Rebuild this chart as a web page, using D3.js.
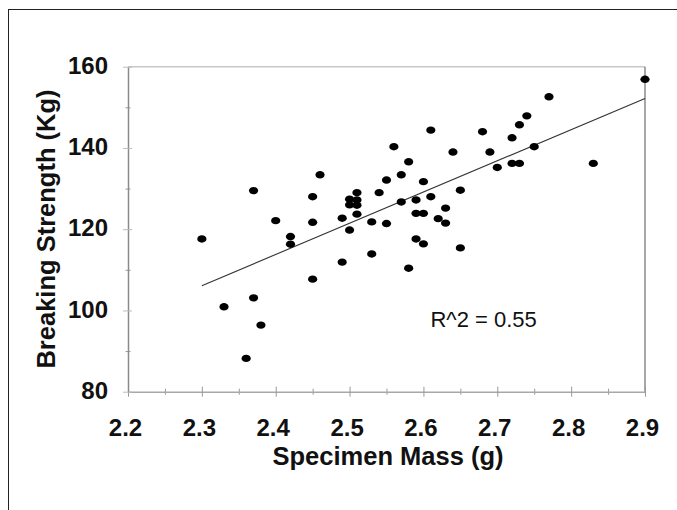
<!DOCTYPE html>
<html>
<head>
<meta charset="utf-8">
<script src="https://cdn.jsdelivr.net/npm/d3@7"></script>
<style>
  html, body { margin: 0; padding: 0; background: #fff; }
  svg { display: block; }
</style>
</head>
<body>
<svg id="chart" width="677" height="510"></svg>
<script>
// ---- Data ----
const massValues = [
  2.90, 2.77, 2.74, 2.73, 2.61, 2.68, 2.72, 2.56, 2.75, 2.64,
  2.69, 2.58, 2.70, 2.72, 2.73, 2.83, 2.57, 2.46, 2.55, 2.60,
  2.37, 2.65, 2.54, 2.45, 2.61, 2.51, 2.50, 2.51, 2.50, 2.51,
  2.57, 2.59, 2.63, 2.40, 2.45, 2.49, 2.51, 2.53, 2.55, 2.59,
  2.60, 2.62, 2.63, 2.50, 2.30, 2.42, 2.42, 2.59, 2.60, 2.65,
  2.53, 2.49, 2.58, 2.45, 2.37, 2.33, 2.38, 2.36
];
const strengthValues = [
  156.9, 152.6, 147.9, 145.7, 144.4, 144.0, 142.5, 140.3, 140.3, 139.0,
  139.0, 136.6, 135.2, 136.2, 136.2, 136.2, 133.4, 133.4, 132.1, 131.7,
  129.5, 129.6, 129.0, 128.0, 128.0, 129.0, 127.4, 127.2, 126.0, 125.9,
  126.7, 127.2, 125.2, 122.1, 121.7, 122.7, 123.7, 121.8, 121.4, 123.9,
  123.9, 122.6, 121.5, 119.8, 117.6, 118.2, 116.3, 117.6, 116.4, 115.4,
  113.9, 111.9, 110.4, 107.7, 103.1, 100.9, 96.4, 88.2
];
const trendX = [2.3, 2.9];
const trendY = [106.1, 152.2];
const xTicks = [2.2, 2.3, 2.4, 2.5, 2.6, 2.7, 2.8, 2.9];
const xMinorTicks = [2.25, 2.35, 2.45, 2.55, 2.65, 2.75, 2.85];
const yTicks = [80, 100, 120, 140, 160];
const yMinorTicks = [90, 110, 130, 150];
const xTitle = "Specimen Mass (g)";
const yTitle = "Breaking Strength (Kg)";
const r2Label = "R^2 = 0.55";

// ---- Layout ----
const svg = d3.select("#chart");
const plot = { left: 128, right: 645, top: 66.7, bottom: 391.7 };
const font = "'Liberation Sans', Arial, Helvetica, sans-serif";

const x = d3.scaleLinear().domain([2.2, 2.9]).range([plot.left, plot.right]);
const y = d3.scaleLinear().domain([80, 160]).range([plot.bottom, plot.top]);

// outer frame
svg.append("rect")
  .attr("x", 8.5).attr("y", 9.5)
  .attr("width", 720).attr("height", 600)
  .attr("fill", "none").attr("stroke", "#222").attr("stroke-width", 1);

// plot border top & right
svg.append("line")
  .attr("x1", plot.left).attr("x2", plot.right)
  .attr("y1", plot.top).attr("y2", plot.top)
  .attr("stroke", "#c8c8c8").attr("stroke-width", 1.5);
svg.append("line")
  .attr("x1", plot.right).attr("x2", plot.right)
  .attr("y1", plot.top).attr("y2", plot.bottom)
  .attr("stroke", "#8a8a8a").attr("stroke-width", 1.5);

// X axis (major ticks crossing)
const xAxisG = svg.append("g").attr("transform", `translate(0,${plot.bottom})`);
xAxisG.append("g")
  .call(d3.axisBottom(x).tickValues(xMinorTicks).tickSize(3).tickSizeOuter(0).tickFormat(""))
  .call(g => g.select(".domain").remove())
  .call(g => g.selectAll(".tick line").attr("y1", -3).attr("stroke", "#999"));
xAxisG.append("g")
  .call(d3.axisBottom(x).tickValues(xTicks).tickSize(5).tickSizeOuter(0).tickFormat(d3.format(".1f")).tickPadding(22))
  .call(g => g.select(".domain").attr("stroke", "#a8a8a8").attr("stroke-width", 1.5))
  .call(g => g.selectAll(".tick line").attr("y1", -5).attr("stroke", "#999"))
  .call(g => g.selectAll(".tick text")
    .attr("x", -3)
    .attr("font-family", font).attr("font-size", 24).attr("font-weight", "bold")
    .attr("fill", "#111"));

// Y axis
const yAxisG = svg.append("g").attr("transform", `translate(${plot.left},0)`);
yAxisG.append("g")
  .call(d3.axisLeft(y).tickValues(yMinorTicks).tickSize(2.5).tickSizeOuter(0).tickFormat(""))
  .call(g => g.select(".domain").remove())
  .call(g => g.selectAll(".tick line").attr("x1", 2.5).attr("stroke", "#999"));
yAxisG.append("g")
  .call(d3.axisLeft(y).tickValues(yTicks).tickSize(5).tickSizeOuter(0).tickPadding(15))
  .call(g => g.select(".domain").attr("stroke", "#8a8a8a").attr("stroke-width", 1.5))
  .call(g => g.selectAll(".tick line").attr("x1", 4).attr("stroke", "#bbb"))
  .call(g => g.selectAll(".tick text")
    .attr("y", -1)
    .attr("font-family", font).attr("font-size", 24).attr("font-weight", "bold")
    .attr("fill", "#111"));

// Trend line
svg.append("line")
  .attr("x1", x(trendX[0])).attr("y1", y(trendY[0]))
  .attr("x2", x(trendX[1])).attr("y2", y(trendY[1]))
  .attr("stroke", "#333").attr("stroke-width", 1.1);

// Points
const points = massValues.map((m, i) => ({ m, s: strengthValues[i] }));
svg.append("g").selectAll("ellipse").data(points).join("ellipse")
  .attr("cx", d => x(d.m)).attr("cy", d => y(d.s))
  .attr("rx", 4.6).attr("ry", 3.7)
  .attr("fill", "#000");

// R^2 annotation
svg.append("text")
  .attr("x", x(2.6) + 7).attr("y", y(100) + 17)
  .attr("font-family", font).attr("font-size", 22)
  .attr("fill", "#111")
  .text(r2Label);

// Axis titles
svg.append("text")
  .attr("x", 388).attr("y", 465)
  .attr("text-anchor", "middle")
  .attr("font-family", font).attr("font-size", 25.5).attr("font-weight", "bold")
  .attr("fill", "#111")
  .text(xTitle);
svg.append("text")
  .attr("transform", `translate(55,229) rotate(-90)`)
  .attr("text-anchor", "middle")
  .attr("font-family", font).attr("font-size", 25.5).attr("font-weight", "bold")
  .attr("fill", "#111")
  .text(yTitle);
</script>
</body>
</html>
